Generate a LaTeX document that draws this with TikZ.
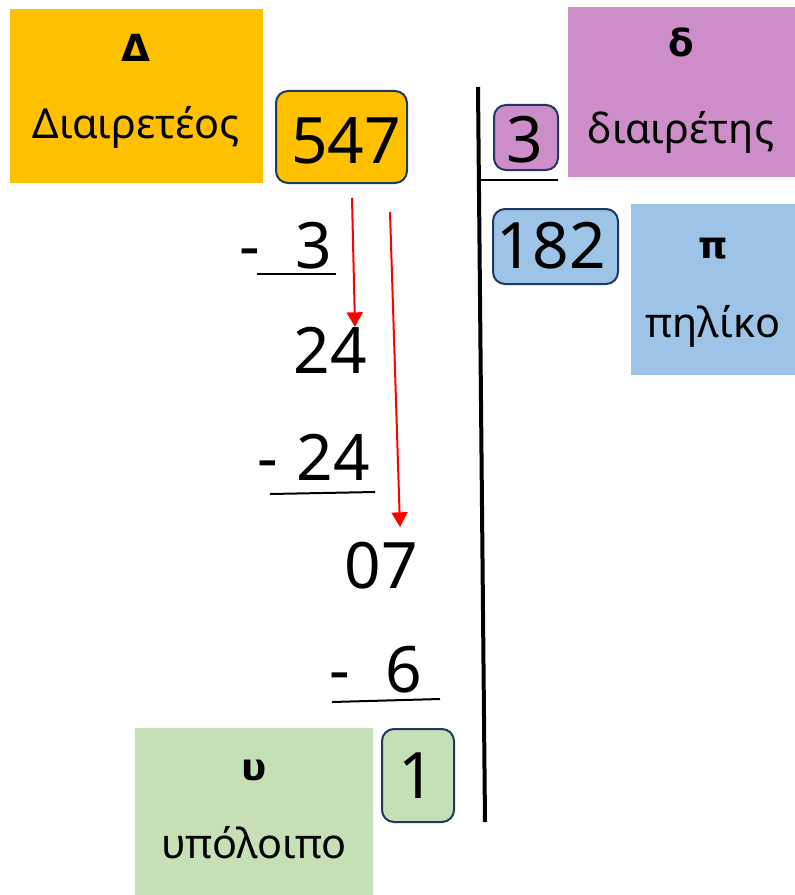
\documentclass[tikz,border=0pt]{standalone}
\usepackage{fontspec}
\setmainfont{Noto Sans}
\newfontfamily\symfont{DejaVu Sans}
\usetikzlibrary{arrows.meta}
\definecolor{yel}{HTML}{FFC000}
\definecolor{pur}{HTML}{CC8DC8}
\definecolor{blu}{HTML}{9DC3E6}
\definecolor{grn}{HTML}{C5E0B4}
\definecolor{navy}{HTML}{1F3864}
\definecolor{arrred}{HTML}{FF0000}
\begin{document}
\begin{tikzpicture}[x=0.75pt,y=-0.75pt,
  labelbox/.style={rectangle,inner sep=0pt,outer sep=0pt},
  numbox/.style={rectangle,rounded corners=9pt,draw=navy,line width=1.5pt,inner sep=0pt,outer sep=0pt},
  lbl/.style={anchor=base,inner sep=0pt,font=\fontsize{31}{36}\selectfont},
  lblb/.style={anchor=base,inner sep=0pt,font=\symfont\bfseries\fontsize{28}{34}\selectfont},
  digits/.style={anchor=base,inner sep=0pt,font=\fontsize{48}{56}\selectfont},
  rule/.style={line width=1.5pt},
  redarrow/.style={draw=arrred,line width=1.5pt,-{Triangle[width=12pt,length=11pt]}}
]
\useasboundingbox (0,0) rectangle (795,895);
% coloured label boxes
\node[labelbox,fill=yel,minimum width=189.75pt,minimum height=130.5pt] (dbox) at (136.5,96) {};
\node[labelbox,fill=pur,minimum width=170.25pt,minimum height=127.5pt] (dvbox) at (681.5,92) {};
\node[labelbox,fill=blu,minimum width=123pt,minimum height=128.25pt] (pbox) at (713,289.5) {};
\node[labelbox,fill=grn,minimum width=178.5pt,minimum height=125.25pt] (ubox) at (254,811.5) {};
% label texts
\node[lblb] (dsym) at (136,62) {Δ};
\node[lbl] (dname) at (136,138) {Διαιρετέος};
\node[lblb] (dvsym) at (681,57) {δ};
\node[lbl] (dvname) at (681,143) {διαιρέτης};
\node[lblb] (psym) at (713,258) {π};
\node[lbl] (pname) at (713,337) {πηλίκο};
\node[lblb] (usym) at (254,780) {υ};
\node[lbl] (uname) at (254,858) {υπόλοιπο};
% rounded number boxes
\node[numbox,fill=yel,minimum width=98.25pt,minimum height=69pt] (b547) at (341.5,137) {};
\node[numbox,fill=pur,minimum width=48pt,minimum height=48.75pt] (b3) at (526,137.5) {};
\node[numbox,fill=blu,minimum width=93.75pt,minimum height=56.25pt] (b182) at (555.5,246.5) {};
\node[numbox,fill=grn,minimum width=54pt,minimum height=69.75pt] (b1) at (418,775.5) {};
% numbers
\node[digits] (n547) at (346,163) {547};
\node[digits] (n3d) at (525,162) {3};
\node[digits] (n182) at (551,268) {182};
\node[digits] (n1) at (417,798) {1};
\node[digits] (m1) at (250,268) {-};
\node[digits] (s3) at (314,268) {3};
\node[digits] (r24) at (330,373) {24};
\node[digits] (m2) at (268,480) {-};
\node[digits] (s24) at (333,480) {24};
\node[digits] (r07) at (381,588) {07};
\node[digits] (m3) at (340,692) {-};
\node[digits] (s6) at (404,692) {6};
% division bar
\coordinate (vtop) at (478,87);
\coordinate (vbot) at (485,822);
\draw[line width=3pt] (vtop) -- (vbot);
\coordinate (hl) at (480,180);
\coordinate (hr) at (558,180);
\draw[line width=1.5pt] (hl) -- (hr);
% underlines
\coordinate (u1a) at (257,274); \coordinate (u1b) at (336,274);
\coordinate (u2a) at (270,494); \coordinate (u2b) at (375,492);
\coordinate (u3a) at (332,702); \coordinate (u3b) at (440,699);
\draw[rule] (u1a) -- (u1b);
\draw[rule] (u2a) -- (u2b);
\draw[rule] (u3a) -- (u3b);
% bring-down arrows
\coordinate (a1s) at (352,198); \coordinate (a1e) at (355,327);
\coordinate (a2s) at (390,212); \coordinate (a2e) at (400,527);
\draw[redarrow] (a1s) -- (a1e);
\draw[redarrow] (a2s) -- (a2e);
\end{tikzpicture}
\end{document}
